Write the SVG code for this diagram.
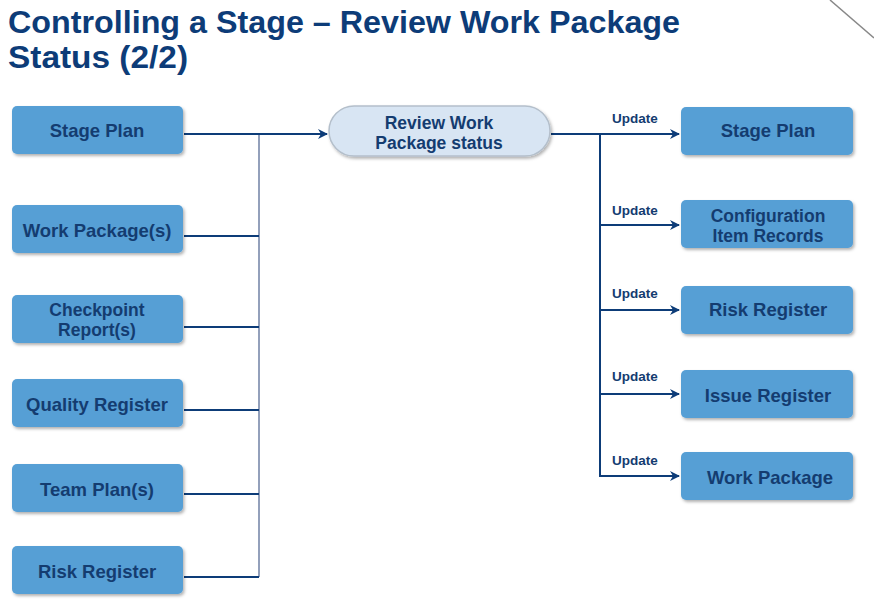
<svg xmlns="http://www.w3.org/2000/svg" width="874" height="599" viewBox="0 0 874 599">
<defs>
<filter id="sh" x="-10%" y="-20%" width="125%" height="150%">
<feDropShadow dx="1.5" dy="2" stdDeviation="1.5" flood-color="#000" flood-opacity="0.3"/>
</filter>
<marker id="ar" markerWidth="10" markerHeight="10" refX="9" refY="5" orient="auto" markerUnits="userSpaceOnUse">
<path d="M0,0 L10,5 L0,10 L3,5 Z" fill="#0d3c78"/>
</marker>
</defs>
<style>
.box{fill:#579fd5;filter:url(#sh)}
.pill{fill:#d8e5f3;stroke:#b4bfcb;stroke-width:1.5;filter:url(#sh)}
.t{font-family:"Liberation Sans",Arial,sans-serif;font-weight:bold;font-size:18.5px;fill:#143c70;text-anchor:middle}
.t2{font-size:17.5px}
.u{font-family:"Liberation Sans",Arial,sans-serif;font-weight:bold;font-size:13.5px;fill:#143c70}
.title{font-family:"Liberation Sans",Arial,sans-serif;font-weight:bold;font-size:32px;fill:#0d3c78}
.ln{fill:none;stroke:#0d3c78;stroke-width:2}
.vl{fill:none;stroke:#6f80a4;stroke-width:1.5}
</style>
<rect width="874" height="599" fill="#ffffff"/>
<line x1="830" y1="0" x2="874" y2="38" stroke="#888" stroke-width="1.5"/>
<g id="title">
<text class="title" x="8" y="33" textLength="672" lengthAdjust="spacingAndGlyphs">Controlling a Stage – Review Work Package</text>
<text class="title" x="8" y="68" textLength="180" lengthAdjust="spacingAndGlyphs">Status (2/2)</text>
</g>
<g id="connectors">
<path class="vl" d="M259,134 V577"/>
<path class="ln" d="M184,134 H327" marker-end="url(#ar)"/>
<path class="ln" d="M184,236 H259"/>
<path class="ln" d="M184,327 H259"/>
<path class="ln" d="M184,410 H259"/>
<path class="ln" d="M184,494 H259"/>
<path class="ln" d="M184,577 H259"/>
<path class="ln" d="M551,134 H679" marker-end="url(#ar)"/>
<path class="ln" d="M600,134 V477"/>
<path class="ln" d="M600,225 H679" marker-end="url(#ar)"/>
<path class="ln" d="M600,310 H679" marker-end="url(#ar)"/>
<path class="ln" d="M600,394 H679" marker-end="url(#ar)"/>
<path class="ln" d="M599,476 H679" marker-end="url(#ar)"/>
<text class="u" x="612" y="123">Update</text>
<text class="u" x="612" y="215">Update</text>
<text class="u" x="612" y="298">Update</text>
<text class="u" x="612" y="381">Update</text>
<text class="u" x="612" y="465">Update</text>
</g>
<g id="review">
<rect class="pill" x="329" y="106" width="221" height="50" rx="25"/>
<text class="t t2" x="439" y="129">Review Work</text>
<text class="t t2" x="439" y="149">Package status</text>
</g>
<g id="l-stageplan"><rect class="box" x="12" y="106" width="171" height="48" rx="5"/><text class="t" x="97" y="137">Stage Plan</text></g>
<g id="l-workpackages"><rect class="box" x="12" y="205" width="171" height="48" rx="5"/><text class="t" x="97" y="237">Work Package(s)</text></g>
<g id="l-checkpoint"><rect class="box" x="12" y="295" width="171" height="48" rx="5"/><text class="t t2" x="97" y="316">Checkpoint</text><text class="t t2" x="97" y="336">Report(s)</text></g>
<g id="l-quality"><rect class="box" x="12" y="379" width="171" height="48" rx="5"/><text class="t" x="97" y="411">Quality Register</text></g>
<g id="l-team"><rect class="box" x="12" y="464" width="171" height="48" rx="5"/><text class="t" x="97" y="496">Team Plan(s)</text></g>
<g id="l-risk"><rect class="box" x="12" y="546" width="171" height="48" rx="5"/><text class="t" x="97" y="578">Risk Register</text></g>
<g id="r-stageplan"><rect class="box" x="681" y="107" width="172" height="48" rx="5"/><text class="t" x="768" y="137">Stage Plan</text></g>
<g id="r-config"><rect class="box" x="681" y="200" width="172" height="48" rx="5"/><text class="t t2" x="768" y="222">Configuration</text><text class="t t2" x="768" y="242">Item Records</text></g>
<g id="r-risk"><rect class="box" x="681" y="286" width="172" height="48" rx="5"/><text class="t" x="768" y="316">Risk Register</text></g>
<g id="r-issue"><rect class="box" x="681" y="370" width="172" height="48" rx="5"/><text class="t" x="768" y="402">Issue Register</text></g>
<g id="r-workpackage"><rect class="box" x="681" y="452" width="172" height="48" rx="5"/><text class="t" x="770" y="484">Work Package</text></g>
</svg>
